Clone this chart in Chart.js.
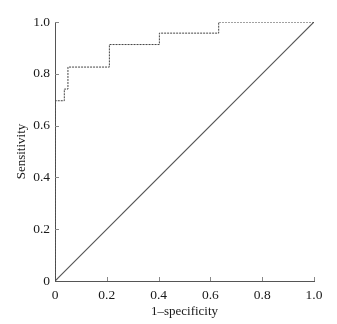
<!DOCTYPE html>
<html>
<head>
<meta charset="utf-8">
<script src="https://cdn.jsdelivr.net/npm/chart.js@4"></script>
<style>
html,body{margin:0;padding:0;background:#fff;}
#wrap{width:337px;height:324px;position:relative;}
</style>
</head>
<body>
<div id="wrap"><canvas id="c" width="337" height="324"></canvas></div>
<script>
// ROC curve corner points (1-specificity, sensitivity)
const fpr = [0, 0, 0.036, 0.036, 0.05, 0.05, 0.21, 0.21, 0.403, 0.403, 0.632, 0.632, 1.0];
const tpr = [0, 0.696, 0.696, 0.741, 0.741, 0.826, 0.826, 0.913, 0.913, 0.957, 0.957, 1.0, 1.0];
// reference diagonal
const diagX = [0, 1];
const diagY = [0, 1];
const tickValues = [0, 0.2, 0.4, 0.6, 0.8, 1.0];
const xTitle = "1–specificity";
const yTitle = "Sensitivity";

const FONT = "'Liberation Serif', 'Times New Roman', serif";

const innerTicks = {
  id: 'innerTicks',
  afterDatasetsDraw(chart) {
    const ctx = chart.ctx;
    const xs = chart.scales.x, ys = chart.scales.y;
    ctx.save();
    ctx.strokeStyle = '#888';
    ctx.lineWidth = 1;
    ctx.beginPath();
    tickValues.forEach(v => {
      if (v === 0) return;
      const px = Math.round(xs.getPixelForValue(v)) + 0.5;
      ctx.moveTo(px, ys.bottom);
      ctx.lineTo(px, ys.bottom - 4);
      const py = Math.round(ys.getPixelForValue(v)) + 0.5;
      ctx.moveTo(xs.left, py);
      ctx.lineTo(xs.left + 4, py);
    });
    ctx.stroke();
    ctx.restore();
  }
};

new Chart(document.getElementById('c'), {
  type: 'line',
  data: {
    datasets: [
      {
        data: fpr.map((x, i) => ({x: x, y: tpr[i]})),
        borderColor: '#444',
        borderWidth: 1,
        borderDash: [2, 1],
        pointRadius: 0,
        fill: false,
        tension: 0
      },
      {
        data: diagX.map((x, i) => ({x: x, y: diagY[i]})),
        borderColor: '#555',
        borderWidth: 1.2,
        pointRadius: 0,
        fill: false,
        tension: 0
      }
    ]
  },
  options: {
    responsive: false,
    animation: false,
    devicePixelRatio: 1,
    layout: { padding: { top: 22, right: 23, left: 0, bottom: 0 } },
    plugins: { legend: { display: false }, tooltip: { enabled: false } },
    scales: {
      x: {
        type: 'linear', min: 0, max: 1,
        afterBuildTicks(s) { s.ticks = tickValues.map(v => ({value: v})); },
        afterFit(s) { s.height = 43; },
        grid: { display: false, drawTicks: false },
        border: { display: true, color: '#555', width: 1 },
        ticks: {
          padding: 6,
          color: '#1a1a1a',
          font: { family: FONT, size: 13.5 },
          maxRotation: 0,
          callback: v => v === 0 ? '0' : v.toFixed(1)
        },
        title: {
          display: true, text: xTitle, color: '#1a1a1a',
          font: { family: FONT, size: 13 },
          padding: { top: 0, bottom: 5 }
        }
      },
      y: {
        type: 'linear', min: 0, max: 1,
        afterBuildTicks(s) { s.ticks = tickValues.map(v => ({value: v})); },
        afterFit(s) { s.width = 55; },
        grid: { display: false, drawTicks: false },
        border: { display: true, color: '#555', width: 1 },
        ticks: {
          padding: 5,
          color: '#1a1a1a',
          font: { family: FONT, size: 13.5 },
          callback: v => v === 0 ? '0' : v.toFixed(1)
        },
        title: {
          display: true, text: yTitle, color: '#1a1a1a',
          font: { family: FONT, size: 13 },
          padding: { top: 14, bottom: 0 }
        }
      }
    }
  },
  plugins: [innerTicks]
});
</script>
</body>
</html>
